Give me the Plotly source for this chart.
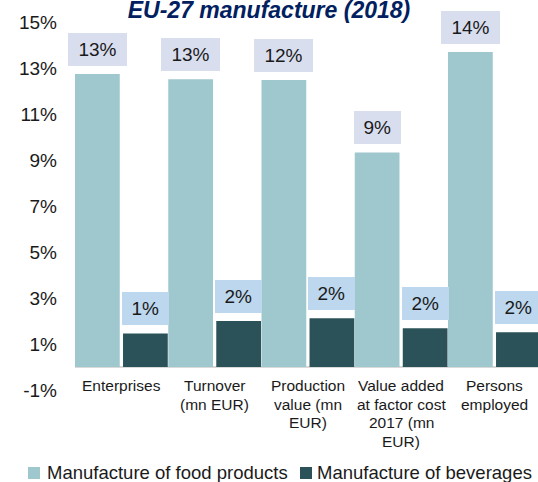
import plotly.graph_objects as go

categories = ["Enterprises", "Turnover (mn EUR)", "Production value (mn EUR)",
              "Value added at factor cost 2017 (mn EUR)", "Persons employed"]
category_lines = [["Enterprises"], ["Turnover", "(mn EUR)"], ["Production", "value (mn", "EUR)"],
                  ["Value added", "at factor cost", "2017 (mn", "EUR)"], ["Persons", "employed"]]
food = [12.74, 12.51, 12.48, 9.33, 13.70]
beverages = [1.46, 2.00, 2.12, 1.68, 1.51]
series_names = ["Manufacture of food products", "Manufacture of beverages"]
tick_vals = [-1, 1, 3, 5, 7, 9, 11, 13, 15]
tick_text = [f"{v}%" for v in tick_vals]

FOOD_C = "#9FC7CE"
BEV_C = "#2B5259"
FOOD_LBL = "#D9DEEF"
BEV_LBL = "#BDD7EE"
FONT = "Liberation Sans, Arial, sans-serif"

W, H = 538, 482
ML, MT, MB, MR = 75, 22, 92, 0
PW = W - ML - MR
PH = H - MT - MB

fig = go.Figure()
fig.add_trace(go.Bar(x=list(range(len(categories))), y=food, name=series_names[0],
                     marker=dict(color=FOOD_C, line=dict(width=0)),
                     width=0.48, offset=-0.5, showlegend=False, hoverinfo="skip"))
fig.add_trace(go.Bar(x=list(range(len(categories))), y=beverages, name=series_names[1],
                     marker=dict(color=BEV_C, line=dict(width=0)),
                     width=0.48, offset=0.015, showlegend=False, hoverinfo="skip"))

annotations = []
for i, (f, b) in enumerate(zip(food, beverages)):
    for val, xo, bg in ((f, -0.26, FOOD_LBL), (b, 0.255, BEV_LBL)):
        txt = f"{round(val)}%"
        box_w = 38.5 if len(txt) <= 2 else 51
        annotations.append(dict(x=i + xo, y=val, xref="x", yref="y",
                                text=txt, showarrow=False,
                                xanchor="center", yanchor="bottom", yshift=8,
                                width=box_w, height=25, align="center", valign="middle",
                                bgcolor=bg, borderpad=4, borderwidth=0,
                                font=dict(family=FONT, size=19, color="#1a1a1a")))
    for j, line in enumerate(category_lines[i]):
        annotations.append(dict(x=i, y=0, xref="x", yref="y", text=line, showarrow=False,
                                xanchor="center", yanchor="middle",
                                yshift=-(18.5 + 18.6 * j),
                                font=dict(family=FONT, size=15.5, color="#1a1a1a")))

# manual legend
def px_x(p):
    return (p - ML) / PW

def px_y(p):
    return (H - MB - p) / PH

shapes = []
leg_items = [(28, 45, FOOD_C), (300, 315, BEV_C)]
for (sq_x, tx, col), name in zip(leg_items, series_names):
    shapes.append(dict(type="rect", xref="paper", yref="paper",
                       x0=px_x(sq_x), x1=px_x(sq_x + 12), y0=px_y(479), y1=px_y(467),
                       fillcolor=col, line=dict(width=0)))
    annotations.append(dict(x=px_x(tx), y=px_y(472.5), xref="paper", yref="paper",
                            text=name, showarrow=False, xanchor="left", yanchor="middle",
                            font=dict(family=FONT, size=18.5, color="#1a1a1a")))

fig.update_layout(
    width=W, height=H,
    margin=dict(l=ML, r=MR, t=MT, b=MB, pad=0),
    paper_bgcolor="white", plot_bgcolor="white",
    barmode="group",
    title=dict(text="<b><i>EU-27 manufacture (2018)</i></b>", x=0.5, xanchor="center",
               xref="container", y=1 - 9.5 / H, yref="container", yanchor="middle",
               font=dict(family=FONT, size=23, color="#002060")),
    xaxis=dict(range=[-0.5, -0.5 + PW / 93.25], showticklabels=False, showgrid=False,
               zeroline=False, showline=False, ticks="", fixedrange=True),
    yaxis=dict(range=[-1, 15], tickvals=tick_vals, ticktext=tick_text, showgrid=False,
               zeroline=True, zerolinecolor="#D9D9D9", zerolinewidth=2, showline=False,
               ticks="", ticklabelstandoff=17, fixedrange=True,
               tickfont=dict(family=FONT, size=19, color="#1a1a1a")),
    annotations=annotations,
    shapes=shapes,
    showlegend=False,
    hovermode=False,
)

fig.write_html("out.html", config={"displayModeBar": False},
               post_script="document.body.style.margin='0';document.body.style.overflow='hidden';")
